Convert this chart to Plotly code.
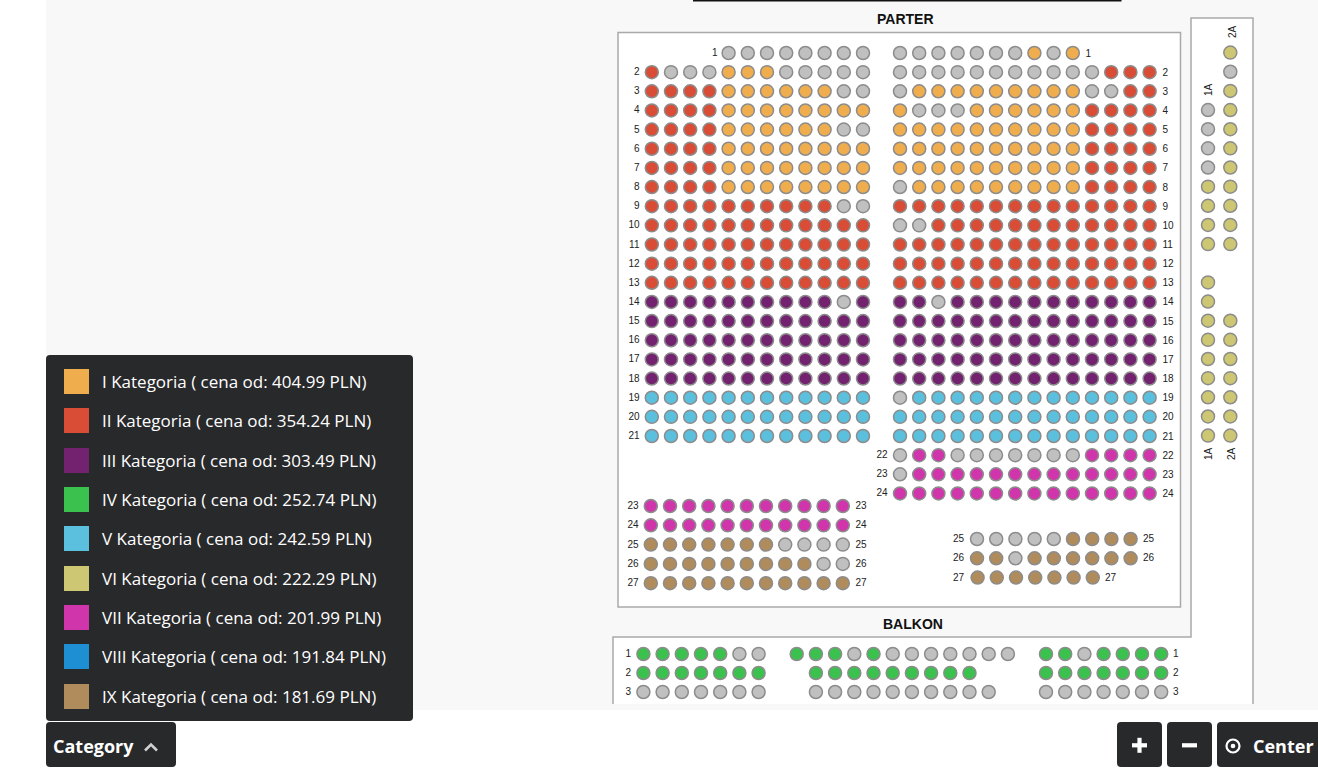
import plotly.graph_objects as go

# ---- data ----------------------------------------------------------------
CATEGORY_NAMES = ["I Kategoria ( cena od: 404.99 PLN)", "II Kategoria ( cena od: 354.24 PLN)",
                  "III Kategoria ( cena od: 303.49 PLN)", "IV Kategoria ( cena od: 252.74 PLN)",
                  "V Kategoria ( cena od: 242.59 PLN)", "VI Kategoria ( cena od: 222.29 PLN)",
                  "VII Kategoria ( cena od: 201.99 PLN)", "VIII Kategoria ( cena od: 191.84 PLN)",
                  "IX Kategoria ( cena od: 181.69 PLN)"]
CATEGORY_COLORS = ["#f0ad4e", "#d94c36", "#732270", "#3bc14e", "#5bc0de",
                   "#cdc672", "#d135ab", "#1e8fd2", "#b08c5c"]
UNAVAILABLE = "#c0c0c0"

# each character is one seat: 1-9 = category, 0 = unavailable, space = no seat
PARTER_LEFT = {
    1: "    00000000", 2: "200011100000", 3: "222211111100", 4: "222211111111",
    5: "222211111100", 6: "222211111111", 7: "222211111111", 8: "222211111111",
    9: "222222222200", 10: "222222222222", 11: "222222222222", 12: "222222222222",
    13: "222222222222", 14: "333333333303", 15: "333333333333", 16: "333333333333",
    17: "333333333333", 18: "333333333333", 19: "555555555555", 20: "555555555555",
    21: "555555555555",
}
PARTER_LEFT_LOW = {23: "77777777777", 24: "77777777777", 25: "99999990000",
                   26: "99999999900", 27: "99999999999"}
PARTER_RIGHT = {
    1: "0000000101", 2: "00000000000222", 3: "01111111110022", 4: "10001111112222",
    5: "11111111112222", 6: "11111111112222", 7: "11111111112222", 8: "01111111112222",
    9: "22222222222222", 10: "00222222222222", 11: "22222222222222", 12: "22222222222222",
    13: "22222222222222", 14: "33033333333333", 15: "33333333333333", 16: "33333333333333",
    17: "33333333333333", 18: "33333333333333", 19: "05555555555555", 20: "55555555555555",
    21: "55555555555555", 22: "07700000007777", 23: "07777777777777", 24: "77777777777777",
}
PARTER_RIGHT_LOW = {25: "000009999", 26: "990999999", 27: "9999999"}
SIDE_1A = "   00006666 666666666"
SIDE_2A = "60666666666   6666666"
BALKON_LEFT = {1: "3333300".replace("3", "4"), 2: "4444444", 3: "0000000"}
BALKON_MID = {1: "444040000000", 2: " 444444444", 3: " 0000000000"}
BALKON_RIGHT = {1: "4404444", 2: "4444444", 3: "0000000"}

# ---- scales --------------------------------------------------------------
PITCH = 19.2
def row_y(r):
    return 53 + 19.15 * (r - 1)

seats = {str(i): ([], []) for i in range(10)}
def add_block(rows, x0, yfun):
    for r, s in rows.items():
        for i, ch in enumerate(s):
            if ch != " ":
                seats[ch][0].append(x0 + PITCH * i)
                seats[ch][1].append(yfun(r))

add_block(PARTER_LEFT, 651.8, row_y)
add_block(PARTER_RIGHT, 900.0, row_y)
low_y = lambda r: 506 + 19.3 * (r - 23)
add_block(PARTER_LEFT_LOW, 650.8, low_y)
low_ry = lambda r: 539 + 19.3 * (r - 25)
add_block({k: v for k, v in PARTER_RIGHT_LOW.items() if k < 27}, 977.0, low_ry)
add_block({27: PARTER_RIGHT_LOW[27]}, 977.6, low_ry)
for x, col in ((1208.0, SIDE_1A), (1230.3, SIDE_2A)):
    add_block({i + 1: ch for i, ch in enumerate(col)}, x, lambda r: row_y(r) - 0.4)
bal_y = lambda r: 654 + 19 * (r - 1)
add_block(BALKON_LEFT, 643.4, bal_y)
add_block(BALKON_MID, 796.7, bal_y)
add_block(BALKON_RIGHT, 1046.0, bal_y)

fig = go.Figure()

def rrect(x0, y0, x1, y1, r=4):
    return (f"M {x0+r} {y0} L {x1-r} {y0} Q {x1} {y0} {x1} {y0+r} L {x1} {y1-r} Q {x1} {y1} {x1-r} {y1} "
            f"L {x0+r} {y1} Q {x0} {y1} {x0} {y1-r} L {x0} {y0+r} Q {x0} {y0} {x0+r} {y0} Z")

DARK = "#28292b"
BORDER = "#a9a9a9"
shapes = [
    dict(type="rect", x0=46, x1=1318, y0=0, y1=710, fillcolor="#f8f8f8", line_width=0, layer="below"),
    dict(type="path", path="M 613 704 L 613 637 L 1191 637 L 1191 18 L 1253 18 L 1253 704",
         fillcolor="white", line=dict(color=BORDER, width=1.5), layer="below"),
    dict(type="rect", x0=618, x1=1180.5, y0=32.5, y1=607, fillcolor="white",
         line=dict(color=BORDER, width=1.5), layer="below"),
    dict(type="rect", x0=612, x1=1254, y0=704, y1=710, fillcolor="#f8f8f8", line_width=0, layer="below"),
    dict(type="rect", x0=693, x1=1121.5, y0=0, y1=1.6, fillcolor="#111111", line_width=0, layer="below"),
    dict(type="path", path=rrect(46, 355, 413, 721), fillcolor=DARK, line_width=0),
    dict(type="path", path=rrect(46, 722, 176, 767), fillcolor=DARK, line_width=0),
    dict(type="path", path=rrect(1117, 722, 1162, 767), fillcolor=DARK, line_width=0),
    dict(type="path", path=rrect(1167, 722, 1212, 767), fillcolor=DARK, line_width=0),
    dict(type="path", path=rrect(1217, 722, 1326, 767), fillcolor=DARK, line_width=0),
    dict(type="path", path="M 145 750.5 L 151 744.5 L 157 750.5", line=dict(color="#d0d0d0", width=2.6)),
    dict(type="rect", x0=1132, x1=1147, y0=743.2, y1=747.4, fillcolor="white", line_width=0),
    dict(type="rect", x0=1137.4, x1=1141.6, y0=737.8, y1=752.8, fillcolor="white", line_width=0),
    dict(type="rect", x0=1182, x1=1197, y0=743.2, y1=747.4, fillcolor="white", line_width=0),
    dict(type="circle", x0=1226.5, x1=1239.5, y0=739.5, y1=752.5, line=dict(color="white", width=2.2)),
    dict(type="circle", x0=1230.7, x1=1235.3, y0=743.7, y1=748.3, fillcolor="white", line_width=0),
]
SW_Y = [369, 408, 448, 487, 526, 566, 605, 644, 684]
annotations = []
for name, col, y in zip(CATEGORY_NAMES, CATEGORY_COLORS, SW_Y):
    shapes.append(dict(type="rect", x0=64, x1=89, y0=y, y1=y + 25, fillcolor=col, line_width=0))
    annotations.append(dict(x=100, y=y + 12.5, text=name, showarrow=False, xanchor="left", yanchor="middle",
                            font=dict(family="Open Sans", size=17, color="white")))

def ann(x, y, text, size, color="#111111", family="Liberation Sans", **kw):
    annotations.append(dict(x=x, y=y, text=text, showarrow=False, font=dict(family=family, size=size, color=color), **kw))

ann(905, 18.5, "<b>PARTER</b>", 14)
ann(912.5, 623.5, "<b>BALKON</b>", 14)
ann(93.5, 746, "<b>Category</b>", 18, "white", "Open Sans")
ann(1283.5, 746, "<b>Center</b>", 18, "white", "Open Sans")
for x, y, t in [(1232, 32, "2A"), (1208, 90, "1A"), (1208, 454, "1A"), (1231, 454, "2A")]:
    ann(x, y, t, 10, "#222222", textangle=-90)

# ---- row labels -----------------------------------------------------------
def labels(rows, x, yfun, pos, dy=0.5):
    fig.add_trace(go.Scatter(x=[x] * len(rows), y=[yfun(r) + dy for r in rows], text=[str(r) for r in rows],
                             mode="text", textposition=pos, hoverinfo="skip", showlegend=False,
                             textfont=dict(family="Liberation Sans", size=10, color="#222222")))

labels([1], 717.5, row_y, "middle left")
labels(list(range(2, 22)), 639.5, row_y, "middle left")
labels(list(range(23, 28)), 638.5, low_y, "middle left")
labels(list(range(23, 28)), 855.5, low_y, "middle right")
labels([22, 23, 24], 887.5, row_y, "middle left")
labels([1], 1085.5, row_y, "middle right", 1)
labels(list(range(2, 25)), 1162.5, row_y, "middle right", 1)
labels([25, 26, 27], 964, low_ry, "middle left")
labels([25, 26], 1143, low_ry, "middle right")
labels([27], 1105, low_ry, "middle right")
labels([1, 2, 3], 631, bal_y, "middle left")
labels([1, 2, 3], 1173, bal_y, "middle right")

# ---- seats ----------------------------------------------------------------
for key in "0123456789":
    xs, ys = seats[key]
    if not xs:
        continue
    color = UNAVAILABLE if key == "0" else CATEGORY_COLORS[int(key) - 1]
    name = "Niedostepne" if key == "0" else CATEGORY_NAMES[int(key) - 1]
    fig.add_trace(go.Scatter(x=xs, y=ys, mode="markers", name=name, showlegend=False, hoverinfo="name",
                             marker=dict(size=13, color=color, line=dict(color="#8c8c8c", width=1.5))))

fig.update_layout(width=1318, height=769, margin=dict(l=0, r=0, t=0, b=0), paper_bgcolor="white",
                  plot_bgcolor="rgba(0,0,0,0)", shapes=shapes, annotations=annotations, showlegend=False,
                  xaxis=dict(range=[0, 1318], visible=False, fixedrange=True),
                  yaxis=dict(range=[769, 0], visible=False, fixedrange=True))
fig.write_html("out.html", config=dict(displayModeBar=False),
               post_script="document.body.style.margin='0';document.body.style.overflow='hidden';")
